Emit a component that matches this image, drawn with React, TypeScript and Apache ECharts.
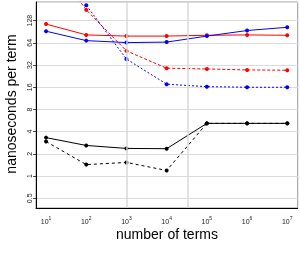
import React, { useEffect, useRef } from "react";
import * as echarts from "echarts";

const terms = [10, 100, 1e3, 1e4, 1e5, 1e6, 1e7];
const redSolid = [115, 82, 79, 79, 81, 82, 81];
const blueSolid = [92, 68.6, 64.5, 65.5, 79, 94, 104];
const redDashed = [1000, 179, 49.8, 29, 28.3, 27.5, 27.2];
const blueDashed: (number | null)[] = [null, 207, 38.6, 17.6, 16.3, 16, 16];
const blackSolid = [3.32, 2.6, 2.37, 2.35, 5.18, 5.18, 5.18];
const blackDashed = [2.94, 1.43, 1.53, 1.19, 5.18, 5.18, 5.18];
const verticalGrid = [1e3, 3.3e4];
const xTitle = "number of terms";
const yTitle = "nanoseconds per term";

function pairs(vals: (number | null)[]) {
  const out: [number, number][] = [];
  vals.forEach((v, i) => {
    if (v != null) out.push([terms[i], v]);
  });
  return out;
}

export default function App() {
  const ref = useRef<HTMLDivElement>(null);
  useEffect(() => {
    if (!ref.current) return;
    const chart = echarts.init(ref.current, undefined, { renderer: "svg" });
    const font = "Liberation Sans";
    const mk = (name: string, vals: (number | null)[], color: string, dash: any) => ({
      name,
      type: "line",
      data: pairs(vals),
      symbol: "circle",
      symbolSize: 4,
      z: 3,
      itemStyle: { color },
      lineStyle: { color, width: 1, type: dash },
      clip: true,
    });
    chart.setOption({
      animation: false,
      grid: {
        left: 36,
        top: 2,
        right: 2.3,
        bottom: 49,
        show: true,
        borderColor: "#999",
        borderWidth: 1,
        backgroundColor: "transparent",
      },
      xAxis: {
        type: "log",
        logBase: 10,
        min: Math.pow(10, 0.75),
        max: Math.pow(10, 7.26),
        axisLine: { show: true, lineStyle: { color: "#000", width: 1 } },
        axisTick: { show: false },
        splitLine: { show: false },
        axisLabel: {
          margin: 7,
          showMinLabel: false,
          showMaxLabel: false,
          formatter: (v: number) => {
            const e = Math.log10(v);
            if (Math.abs(e - Math.round(e)) > 1e-6) return "";
            return "{b|10}{s|" + Math.round(e) + "}";
          },
          rich: {
            b: { fontSize: 7, fontFamily: font, color: "#222", lineHeight: 10, verticalAlign: "bottom" },
            s: { fontSize: 5, fontFamily: font, color: "#222", lineHeight: 10, verticalAlign: "top" },
          },
        },
      },
      yAxis: {
        type: "log",
        logBase: 2,
        min: 0.369,
        max: 229,
        axisLine: { show: true, lineStyle: { color: "#000", width: 1 } },
        axisTick: { show: true, length: 3, lineStyle: { color: "#444" } },
        splitLine: { show: true, lineStyle: { color: "#dcdcdc", width: 1 } },
        axisLabel: {
          rotate: 90,
          margin: 3,
          fontSize: 7,
          fontFamily: font,
          color: "#222",
          showMinLabel: false,
          showMaxLabel: false,
          formatter: (v: number) => {
            const e = Math.log2(v);
            if (Math.abs(e - Math.round(e)) > 1e-6) return "";
            return String(Math.pow(2, Math.round(e)));
          },
        },
      },
      graphic: [
        {
          type: "text",
          x: 167,
          y: 234,
          style: { text: xTitle, font: `14px "${font}"`, fill: "#000", textAlign: "center", textVerticalAlign: "middle" },
        },
        {
          type: "text",
          x: 11,
          y: 104,
          rotation: Math.PI / 2,
          style: { text: yTitle, font: `14px "${font}"`, fill: "#000", textAlign: "center", textVerticalAlign: "middle" },
        },
      ],
      series: [
        {
          type: "line",
          data: [],
          z: 1,
          silent: true,
          markLine: {
            silent: true,
            symbol: "none",
            label: { show: false },
            lineStyle: { color: "#d8d8d8", width: 1.5, type: "solid" },
            data: verticalGrid.map((v) => ({ xAxis: v })),
          },
        },
        mk("red", redSolid, "#ff0000", "solid"),
        mk("blue", blueSolid, "#0000ff", "solid"),
        mk("red dashed", redDashed, "#ff0000", [3, 2]),
        mk("blue dashed", blueDashed, "#0000ff", [2, 2]),
        mk("black", blackSolid, "#000000", "solid"),
        mk("black dashed", blackDashed, "#000000", [3, 3]),
      ],
    });
    return () => chart.dispose();
  }, []);
  return <div ref={ref} style={{ position: "fixed", left: 0, top: 0, width: 300, height: 257 }} />;
}
